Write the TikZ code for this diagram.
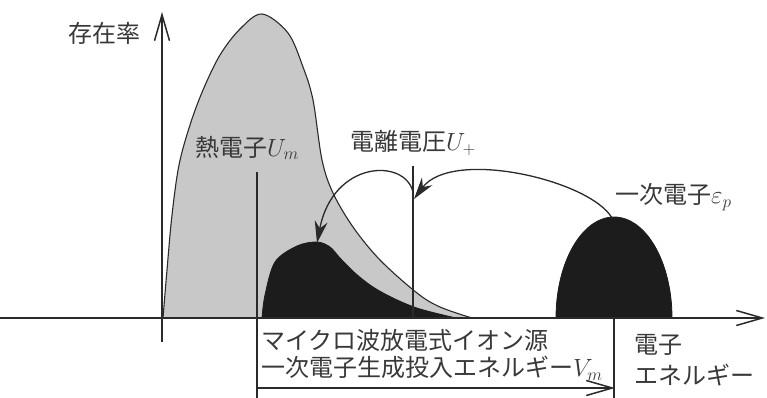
\documentclass[tikz,border=0pt]{standalone}
\usepackage{fontspec}
\newfontfamily\jp{Noto Sans CJK JP}
\usetikzlibrary{arrows.meta}
\definecolor{grayfill}{HTML}{C8C8C8}
\definecolor{dark}{HTML}{1C1C1C}
\definecolor{ln}{HTML}{2A2A2A}
\definecolor{txt}{HTML}{383838}
\begin{document}
\begin{tikzpicture}[x=1pt,y=-1pt,
  lbl/.style={inner sep=0pt, text=txt, font=\jp\fontsize{24}{28}\selectfont},
  axisline/.style={line width=1.5pt, draw=ln, -{Straight Barb[length=26pt,width=15pt,line width=1.5pt]}},
  thin/.style={line width=1.1pt, draw=ln},
  curvearrow/.style={line width=1.3pt, draw=ln, -{Stealth[length=22pt,width=13pt]}},
  graycurve/.style={fill=grayfill, draw=ln, line width=1.1pt},
  blackbump/.style={fill=dark, draw=dark, line width=0.8pt}]
\useasboundingbox (0,0) rectangle (767,398);

% thermal electron distribution (gray)
\path[graycurve] plot[smooth, tension=0.55] coordinates {(163,318) (167,270) (172,215) (179,165) (190,125) (203,90) (220,55) (240,29) (262,14) (288,33) (303,67) (313,100) (322,160) (333,193) (353,227) (380,260) (417,293) (440,307) (472,318)} -- cycle;

% low-energy black bump
\path[blackbump] plot[smooth, tension=0.55] coordinates {(262,318) (265,295) (275,262) (297,246) (317,242) (330,247) (340,258) (355,273) (373,287) (395,299) (420,309) (456,318)} -- cycle;

% primary electron bump
\path[blackbump] (556,318) .. controls (556,262.2) and (582,217) .. (614,217)
  .. controls (646,217) and (672,262.2) .. (672,318) -- cycle;

% named points
\coordinate (yb) at (162,342);
\coordinate (yt) at (162,12);
\coordinate (xl) at (0,318);
\coordinate (xr) at (765,318);
\coordinate (umtop) at (257,172);
\coordinate (umbot) at (257,398);
\coordinate (iontop) at (413,166);
\coordinate (ionbot) at (413,318);
\coordinate (vmtop) at (614,318);
\coordinate (vmbot) at (614,398);
\coordinate (arl) at (257,388);
\coordinate (arr) at (615,388);
\coordinate (ptop) at (612,218);
\coordinate (ion1) at (414,199);
\coordinate (ion2) at (413,192);
\coordinate (btop) at (317,243);

% axes
\draw[axisline] (xl) -- (xr);
\draw[axisline] (yb) -- (yt);

% vertical marker lines
\draw[thin] (umtop) -- (umbot);
\draw[thin] (iontop) -- (ionbot);
\draw[thin] (vmtop) -- (vmbot);
\draw[axisline, line width=1.3pt] (arl) -- (arr);

% curved arrows
\draw[curvearrow] (ptop) .. controls (590,180) and (452,148) .. (ion1);
\draw[curvearrow] (ion2) .. controls (405,158) and (333,160) .. (btop);

% labels
\node[lbl] (ylab) at (104,33) {存在率};
\node[lbl, anchor=west] (thermal) at (195,148) {熱電子$U_m$};
\node[lbl, anchor=west] (ionv) at (350,143) {電離電圧$U_+$};
\node[lbl, anchor=west] (prim) at (615,197) {一次電子$\varepsilon_p$};
\node[lbl, anchor=west] (l1) at (261,340) {マイクロ波放電式イオン源};
\node[lbl, anchor=west] (l2) at (261,368) {一次電子生成投入エネルギー$V_m$};
\node[lbl, anchor=west] (xl1) at (634,345) {電子};
\node[lbl, anchor=west] (xl2) at (634,375) {エネルギー};
\end{tikzpicture}
\end{document}
